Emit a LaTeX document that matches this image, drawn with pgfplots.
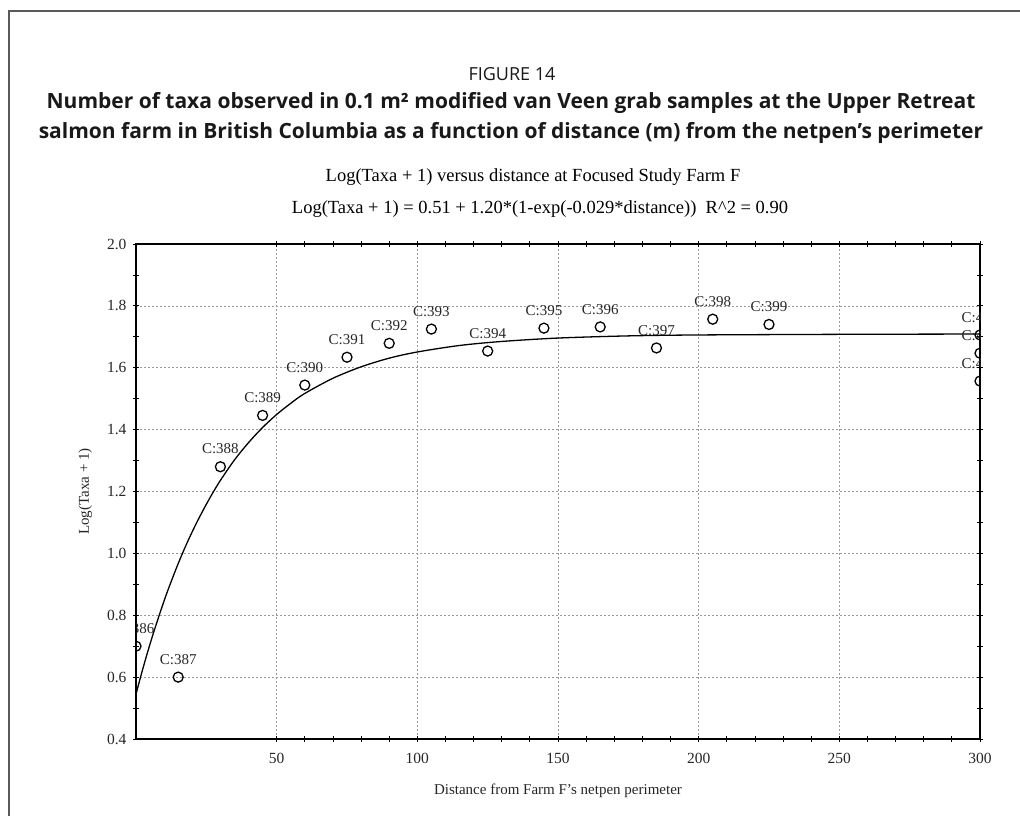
\documentclass[border=0pt]{standalone}
\usepackage{fontspec}
\setmainfont{Liberation Serif}
\newfontfamily\titlefont{Open Sans}
\usepackage{pgfplots}
\pgfplotsset{compat=1.18}
\usepackage{pgfplotstable}

\pgfplotstableread{
x y lab
0 0.700 C:386
15 0.600 C:387
30 1.280 C:388
45 1.446 C:389
60 1.544 C:390
75 1.634 C:391
90 1.679 C:392
105 1.725 C:393
125 1.654 C:394
145 1.728 C:395
165 1.732 C:396
185 1.664 C:397
205 1.757 C:398
225 1.740 C:399
300 1.706 C:400
300 1.647 C:401
300 1.557 C:402
}\samples

\pgfplotstableread{
x y
0 0.545
2 0.613
4 0.677
6 0.737
8 0.793
10 0.847
12 0.897
15 0.967
18 1.031
21 1.089
24 1.142
27 1.191
30 1.236
35 1.302
40 1.358
45 1.407
50 1.449
55 1.485
60 1.517
70 1.566
80 1.603
90 1.631
100 1.651
115 1.672
130 1.685
150 1.696
175 1.703
200 1.706
250 1.708
300 1.709
}\fitcurve

\begin{document}
\begin{tikzpicture}[x=1pt,y=1pt]
\useasboundingbox (0,0) rectangle (1020,-816);
\draw[line width=1.5pt, black!65] (9,-816) -- (9,-11) -- (1020,-11);
\node[font=\titlefont\fontsize{18}{21}\selectfont, text=black!90] at (512,-74) {FIGURE 14};
\node[font=\titlefont\bfseries\fontsize{21}{25}\selectfont, text=black!90] at (511,-103) {Number of taxa observed in 0.1 m² modified van Veen grab samples at the Upper Retreat};
\node[font=\titlefont\bfseries\fontsize{21}{25}\selectfont, text=black!90] at (511,-133) {salmon farm in British Columbia as a function of distance (m) from the netpen’s perimeter};
\node[font=\fontsize{18.5}{21}\selectfont] at (533,-177) {Log(Taxa + 1) versus distance at Focused Study Farm F};
\node[font=\fontsize{18.5}{21}\selectfont] at (540,-209) {Log(Taxa + 1) = 0.51 + 1.20*(1-exp(-0.029*distance))\ \ R\textasciicircum 2 = 0.90};
\begin{axis}[
  at={(136pt,-739pt)}, anchor=south west,
  scale only axis, width=844pt, height=495pt,
  xmin=0, xmax=300, ymin=0.4, ymax=2.0,
  xtick={50,100,...,300}, ytick={0.4,0.6,...,2.01},
  minor x tick num=4, minor y tick num=1,
  tick align=center, major tick length=6pt, minor tick length=6pt,
  xtick pos=both, ytick pos=both,
  xticklabel pos=left, yticklabel pos=left,
  every tick/.style={black, line width=0.8pt},
  axis line style={line width=1.4pt, black},
  grid=major,
  major grid style={gray!80, line width=0.7pt, dash pattern=on 2pt off 2pt},
  /pgf/number format/assume math mode=true,
  yticklabel style={/pgf/number format/fixed, /pgf/number format/fixed zerofill, /pgf/number format/precision=1, xshift=-3pt},
  ticklabel style={font=\fontsize{15.5}{18}\selectfont, text=black!85},
  xticklabel style={yshift=-8pt},
  xlabel={Distance from Farm F's netpen perimeter},
  ylabel={Log(Taxa + 1)},
  label style={font=\fontsize{15}{18}\selectfont, text=black!85},
  xlabel style={yshift=-13pt},
  ylabel style={yshift=8pt},
  clip marker paths=true,
]
\addplot[black, line width=1.3pt, smooth] table[x=x,y=y] {\fitcurve};
\addplot[only marks, mark=o, mark size=5pt, mark options={line width=1.3pt, black},
  nodes near coords, point meta=explicit symbolic,
  every node near coord/.append style={font=\fontsize{15}{17}\selectfont, text=black!85, anchor=south, inner sep=1pt, yshift=11pt}]
  table[x=x,y=y,meta=lab] {\samples};
\end{axis}
\end{tikzpicture}
\end{document}
